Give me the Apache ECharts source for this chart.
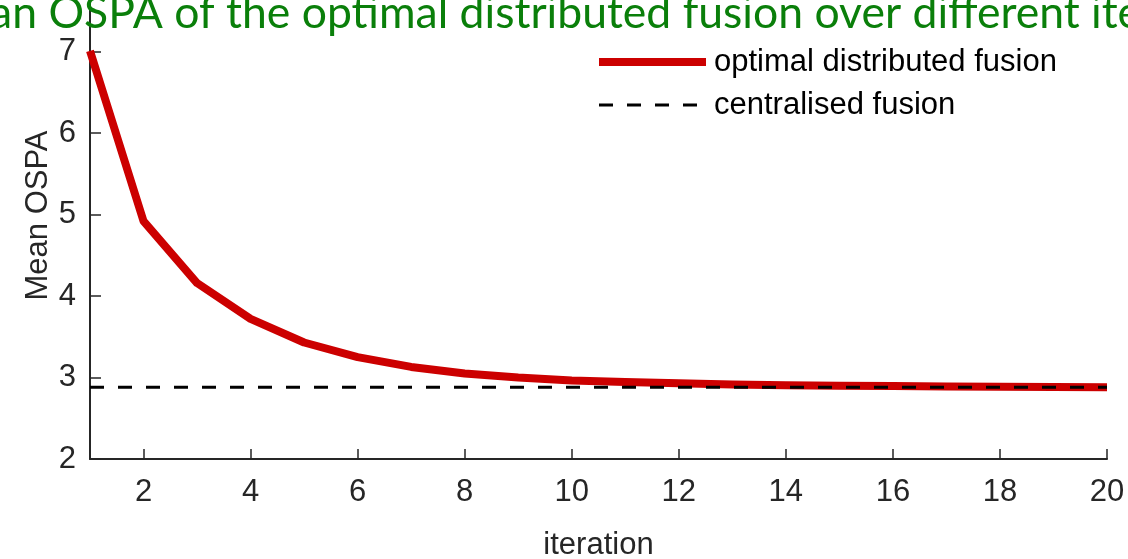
<!DOCTYPE html>
<html>
<head>
<meta charset="utf-8">
<script src="https://cdn.jsdelivr.net/npm/echarts@6/dist/echarts.min.js"></script>
<style>
html,body{margin:0;padding:0;background:#fff;}
#c{width:1128px;height:559px;}
</style>
</head>
<body>
<div id="c"></div>
<script>
const iterations = [1,2,3,4,5,6,7,8,9,10,11,12,13,14,15,16,17,18,19,20];
const optimalDistributed = [7.01,4.92,4.16,3.72,3.43,3.25,3.13,3.05,3.00,2.965,2.945,2.93,2.915,2.905,2.90,2.895,2.89,2.888,2.885,2.882];
const centralised = [2.88,2.88,2.88,2.88,2.88,2.88,2.88,2.88,2.88,2.88,2.88,2.88,2.88,2.88,2.88,2.88,2.88,2.88,2.88,2.88];
const xTickValues = [2,4,6,8,10,12,14,16,18,20];
const yTickValues = [2,3,4,5,6,7];
const titleText = 'Mean OSPA of the optimal distributed fusion over different iterations';
const seriesNames = ['optimal distributed fusion','centralised fusion'];

const txt = '#262626';
const font = 'Liberation Sans, Arial, sans-serif';
const chart = echarts.init(document.getElementById('c'), null, {renderer:'canvas'});
chart.setOption({
  animation:false,
  backgroundColor:'#fff',
  graphic:[{
    type:'text', left:-74, top:-9, z:100,
    style:{text:titleText, fill:'#0a7f0a', font:'44.5px Lato, sans-serif'}
  }],
  grid:{left:90,right:21,top:0,bottom:100,containLabel:false,outerBoundsMode:'none'},
  legend:{
    orient:'vertical', left:595, top:46, padding:0, itemWidth:107, itemHeight:10, itemGap:11,
    textStyle:{color:'#000', fontFamily:font, fontSize:31, lineHeight:32, padding:[0,0,0,3]},
    lineStyle:{width:'inherit'},
    itemStyle:{opacity:0},
    data:seriesNames
  },
  xAxis:{
    type:'value', min:1, max:20,
    name:'iteration', nameLocation:'middle', nameGap:71, nameMoveOverlap:false,
    nameTextStyle:{color:txt, fontFamily:font, fontSize:31},
    axisLine:{show:true, onZero:false, lineStyle:{color:txt, width:2}},
    axisTick:{show:true, inside:true, length:10, lineStyle:{color:txt, width:1.5}, customValues:xTickValues},
    axisLabel:{color:txt, fontFamily:font, fontSize:31, margin:18, customValues:xTickValues},
    splitLine:{show:false}
  },
  yAxis:{
    type:'value', min:2, max:7.634,
    name:'Mean OSPA', nameLocation:'middle', nameGap:36, nameRotate:90, nameMoveOverlap:false,
    nameTextStyle:{color:txt, fontFamily:font, fontSize:31, padding:[0,0,0,28]},
    axisLine:{show:true, onZero:false, lineStyle:{color:txt, width:2}},
    axisTick:{show:true, inside:true, length:11, lineStyle:{color:txt, width:1.5}, customValues:yTickValues},
    axisLabel:{color:txt, fontFamily:font, fontSize:31, margin:14, customValues:yTickValues},
    splitLine:{show:false}
  },
  series:[
    {
      name:seriesNames[0], type:'line', symbol:'none', z:3,
      data:iterations.map((x,i)=>[x, optimalDistributed[i]]),
      lineStyle:{color:'#cc0000', width:8, join:'round'},
      itemStyle:{color:'#cc0000'}
    },
    {
      name:seriesNames[1], type:'line', symbol:'none', z:4,
      data:iterations.map((x,i)=>[x, centralised[i]]),
      lineStyle:{color:'#000', width:3, type:[14,14]},
      itemStyle:{color:'#000'}
    }
  ]
});
</script>
</body>
</html>
